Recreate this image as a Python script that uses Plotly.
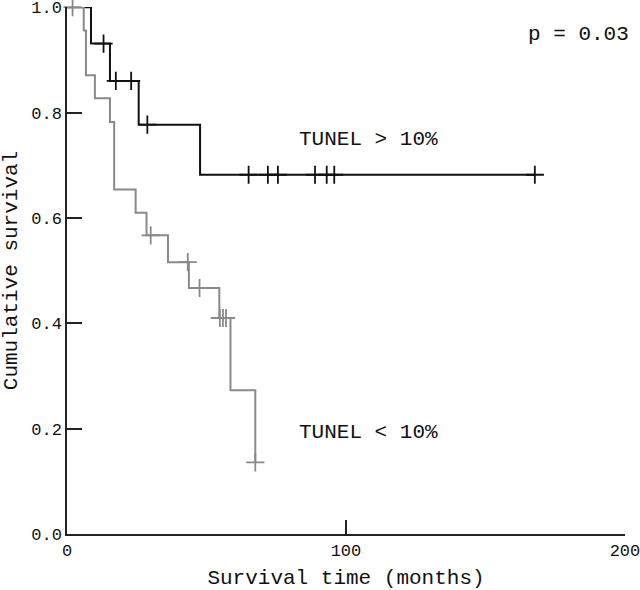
import plotly.graph_objects as go

# Data
high_event_times = [8.6, 15.4, 25.7, 47.7]
high_surv = [1.0, 0.931, 0.860, 0.777, 0.682]
high_end_time = 167.7
high_censor_times = [13.1, 17.5, 23.0, 28.8, 65.1, 72.0, 75.6, 88.9, 93.1, 95.8, 167.7]

low_event_times = [6.0, 6.8, 10.0, 15.4, 16.9, 24.6, 28.5, 36.2, 43.7, 54.6, 58.6, 67.5]
low_surv = [1.0, 0.956, 0.871, 0.827, 0.782, 0.654, 0.610, 0.567, 0.516, 0.467, 0.410, 0.273, 0.136]
low_end_time = 67.5
low_censor_times = [2.0, 30.0, 43.3, 47.5, 54.8, 55.9, 57.0, 67.5]

x_ticks = [0, 100, 200]
y_ticks = [0.0, 0.2, 0.4, 0.6, 0.8, 1.0]
labels = ["TUNEL > 10%", "TUNEL < 10%"]
p_text = "p = 0.03"

FONT = "Liberation Mono, Courier New, monospace"


def step_xy(times, surv, end_time):
    xs = [0] + list(times)
    ys = list(surv)
    if end_time > xs[-1]:
        xs.append(end_time)
        ys.append(surv[-1])
    return xs, ys


def surv_at(t, times, surv):
    s = surv[0]
    for i, et in enumerate(times):
        if t >= et:
            s = surv[i + 1]
    return s


fig = go.Figure()
for times, surv, end, cens, color, w in [
    (high_event_times, high_surv, high_end_time, high_censor_times, "#111111", 2),
    (low_event_times, low_surv, low_end_time, low_censor_times, "#8a8a8a", 2),
]:
    xs, ys = step_xy(times, surv, end)
    fig.add_trace(go.Scatter(x=xs, y=ys, mode="lines", line=dict(color=color, width=w, shape="hv"),
                             cliponaxis=False, showlegend=False, hoverinfo="skip"))
    cy = [surv_at(t, times, surv) for t in cens]
    fig.add_trace(go.Scatter(x=cens, y=cy, mode="markers",
                             marker=dict(symbol="cross-thin", size=13, line=dict(color=color, width=1.8)),
                             cliponaxis=False, showlegend=False, hoverinfo="skip"))

fig.add_annotation(x=82.5, y=0.748, text=labels[0], showarrow=False, xanchor="left", yanchor="middle",
                   font=dict(family=FONT, size=21, color="#111"))
fig.add_annotation(x=82.5, y=0.192, text=labels[1], showarrow=False, xanchor="left", yanchor="middle",
                   font=dict(family=FONT, size=21, color="#111"))
fig.add_annotation(x=1.01, xref="paper", y=0.949, text=p_text, showarrow=False, xanchor="right",
                   yanchor="middle", font=dict(family=FONT, size=21, color="#111"))

fig.update_layout(
    width=640, height=590,
    margin=dict(l=67, r=15, t=7, b=56),
    paper_bgcolor="white", plot_bgcolor="white",
    font=dict(family=FONT, color="#111"),
    xaxis=dict(range=[0, 200.02], tickvals=x_ticks, ticks="inside", ticklen=14, tickwidth=1.5,
               tickcolor="#222", showline=True, linecolor="#222", linewidth=1.5, showgrid=False,
               zeroline=False, tickfont=dict(size=17, family=FONT), automargin=False,
               ticklabeloverflow="allow",
               title=dict(text="Survival time (months)", font=dict(size=21, family=FONT), standoff=9)),
    yaxis=dict(range=[0, 1.0004], tickvals=y_ticks, tickformat=".1f", ticks="inside",
               ticklen=15, tickwidth=1.5, tickcolor="#222", showline=True, linecolor="#222", linewidth=1.5,
               showgrid=False, zeroline=False, tickfont=dict(size=17, family=FONT), automargin=False,
               ticklabeloverflow="allow",
               title=dict(text="Cumulative survival", font=dict(size=21, family=FONT), standoff=10)),
)

fig.write_html("out.html", config={"displayModeBar": False},
               post_script="document.body.style.margin='0';document.body.style.overflow='hidden';")
